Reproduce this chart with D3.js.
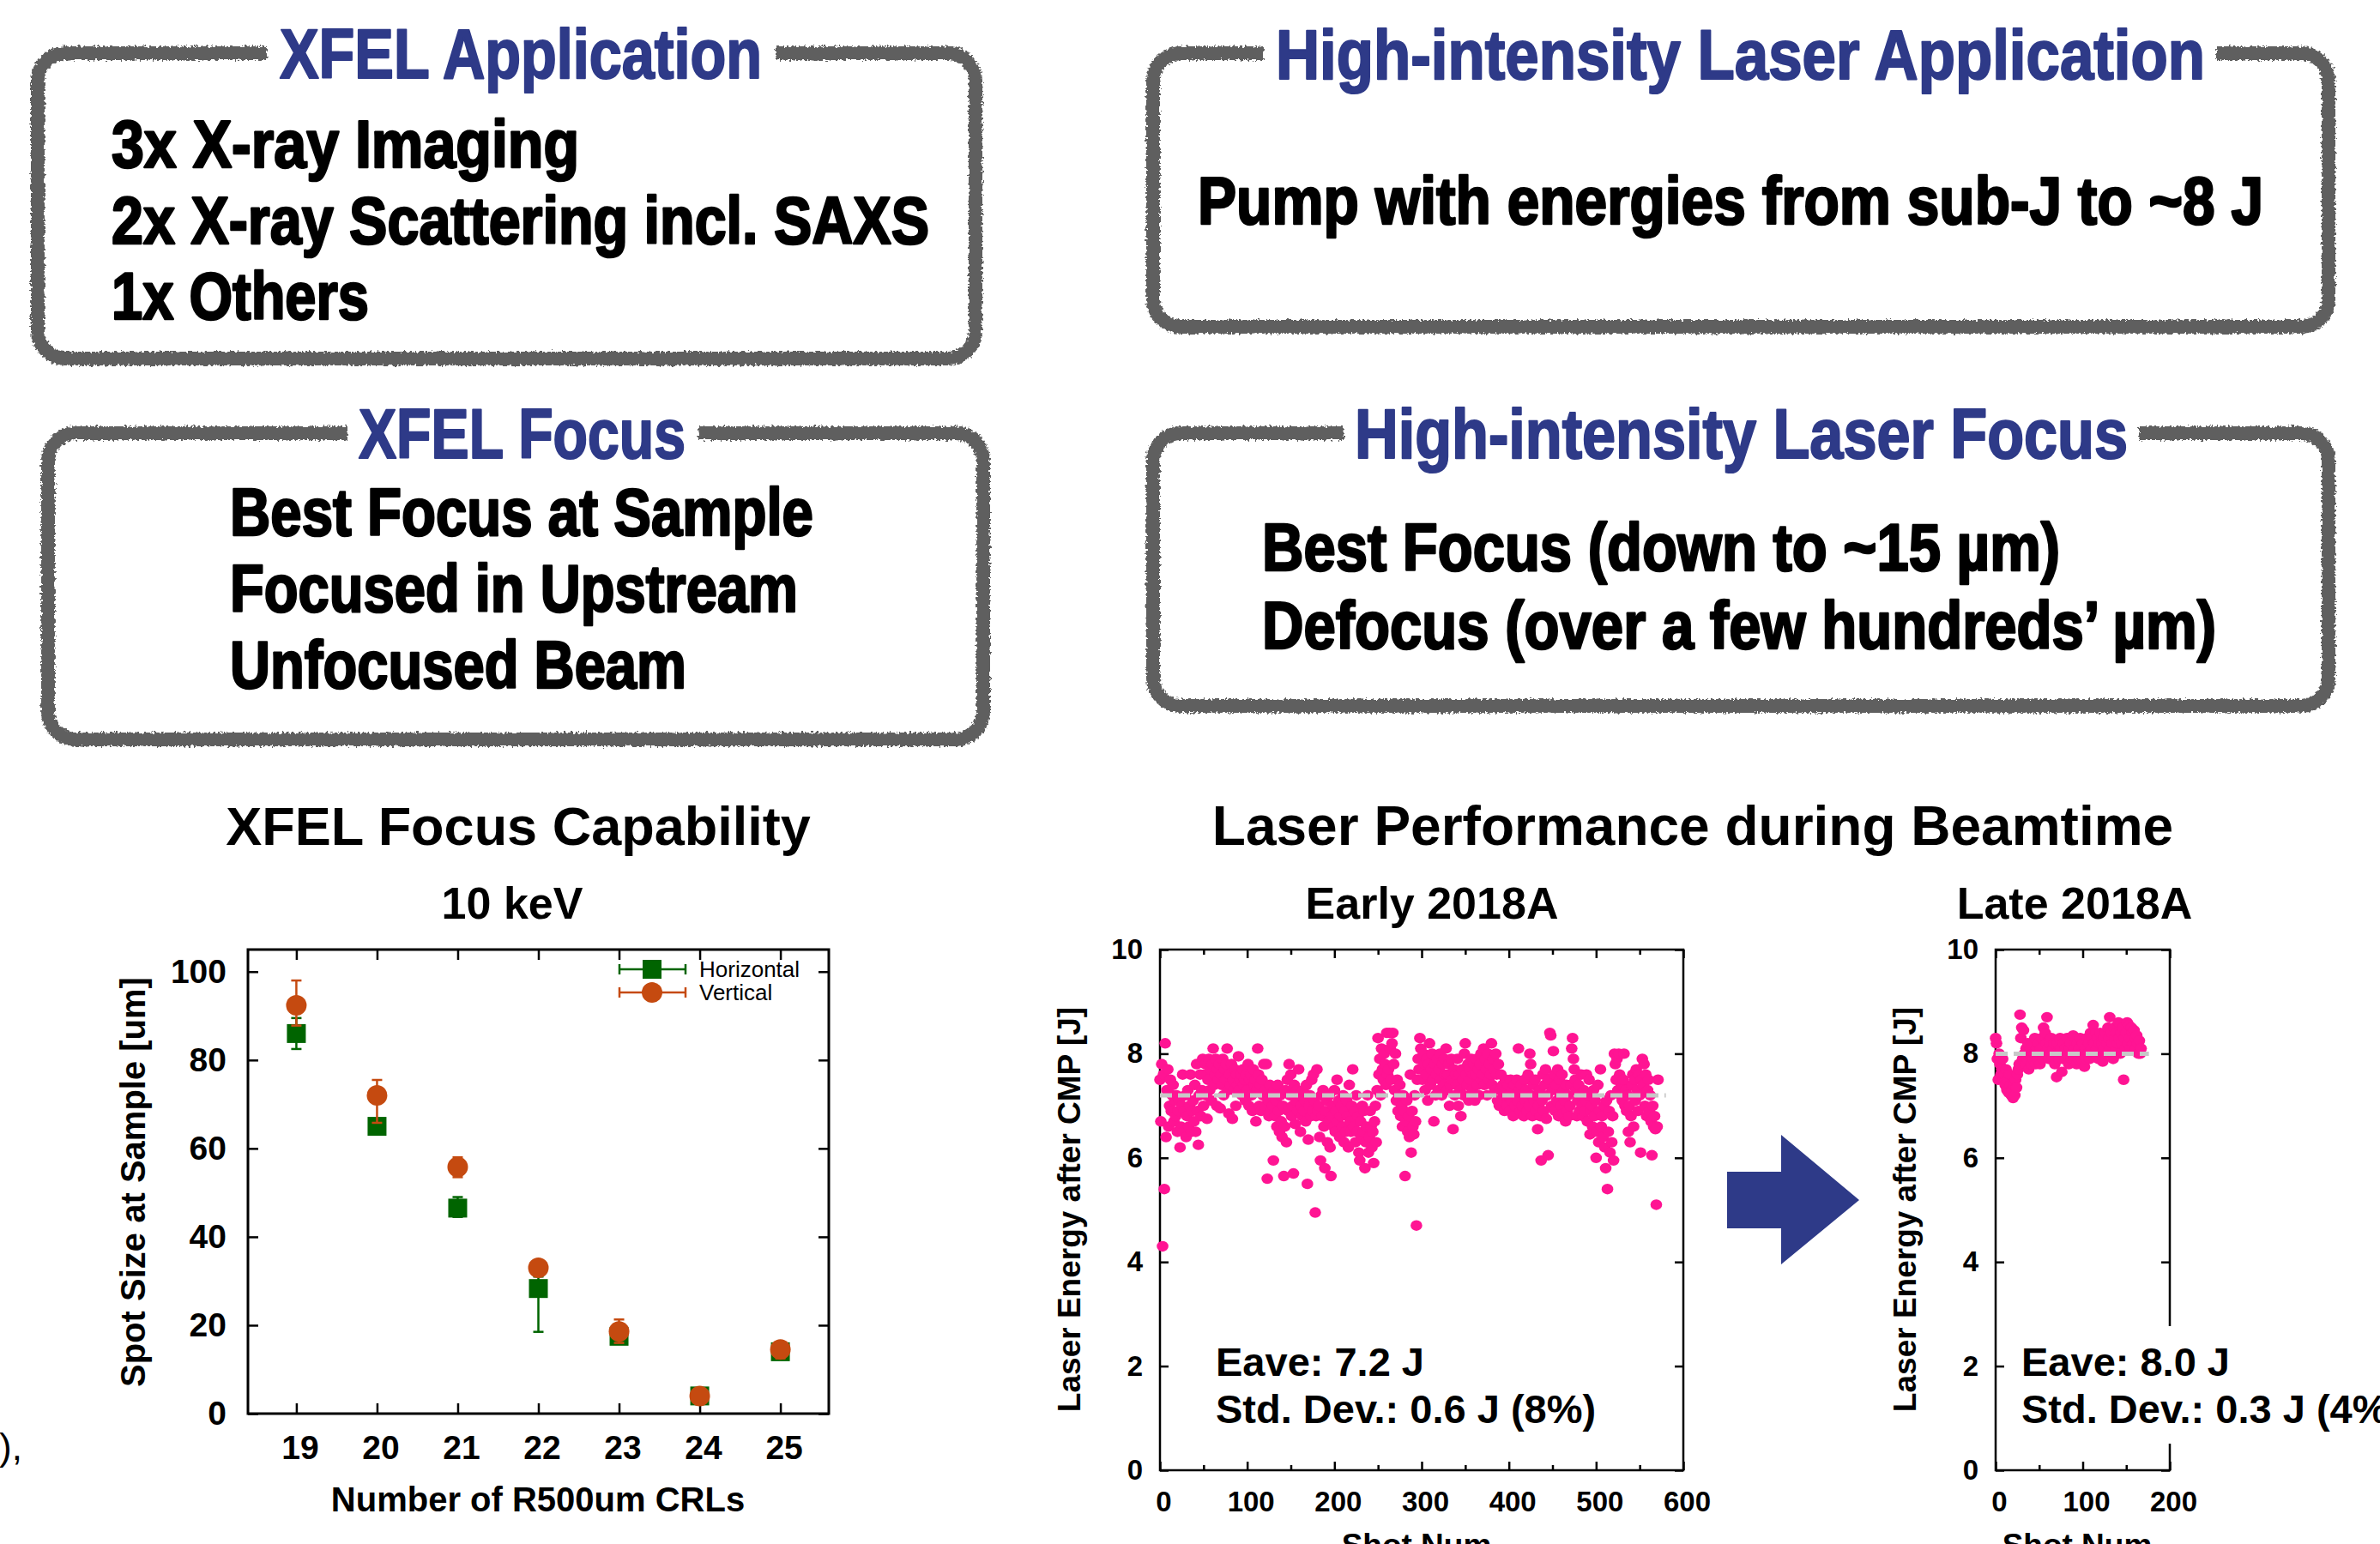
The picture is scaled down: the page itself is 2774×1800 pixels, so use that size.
<!DOCTYPE html>
<html>
<head>
<meta charset="utf-8">
<script src="https://cdn.jsdelivr.net/npm/d3@7"></script>
<style>
  html, body { margin: 0; padding: 0; background: #ffffff; }
  svg { display: block; }
</style>
</head>
<body>
<script>
// ---------------- DATA ----------------
// Text panels
const panelTitles = ["XFEL Application", "High-intensity Laser Application", "XFEL Focus", "High-intensity Laser Focus"];
const panel1Lines = ["3x X-ray Imaging", "2x X-ray Scattering incl. SAXS", "1x Others"];
const panel2Lines = ["Pump with energies from sub-J to ~8 J"];
const panel3Lines = ["Best Focus at Sample", "Focused in Upstream", "Unfocused Beam"];
const panel4Lines = ["Best Focus (down to ~15 µm)", "Defocus (over a few hundreds’ µm)"];

// XFEL focus capability (10 keV)
const crls = [19, 20, 21, 22, 23, 24, 25];
const horizVal  = [86.0, 65.0, 46.5, 28.3, 17.5, 4.0, 14.0];
const horizLow  = [82.5, 64.0, 44.5, 18.5, 16.5, 3.0, 13.0];
const horizHigh = [89.5, 66.5, 49.0, 31.0, 18.5, 5.0, 15.0];
const vertVal   = [92.4, 72.0, 55.8, 33.0, 18.6, 4.0, 14.5];
const vertLow   = [87.8, 65.8, 53.5, 32.0, 16.0, 3.0, 12.5];
const vertHigh  = [98.0, 75.5, 58.0, 34.0, 21.3, 5.0, 15.5];
const spotTicks = [0, 20, 40, 60, 80, 100];
const seriesNames = ["Horizontal", "Vertical"];

// Laser energy after CMP [J], one value per shot
const earlyEnergy = [
 7.5,6.7,7.8,4.3,7.6,5.4,8.2,6.4,7.3,7.7,
 6.6,7.0,7.5,6.9,7.2,7.4,6.7,7.1,6.8,7.2,
 6.5,6.9,7.1,6.2,6.6,7.0,7.6,6.5,6.9,7.2,
 6.4,6.8,7.3,6.6,7.0,7.6,6.5,6.9,7.1,6.7,
 7.4,6.5,7.8,6.9,6.25,7.2,7.6,6.8,7.3,7.9,
 7.0,7.6,7.8,7.2,6.75,7.5,7.9,7.3,7.7,7.1,
 7.8,8.1,7.4,7.6,7.9,7.0,7.7,7.5,7.8,6.95,
 7.6,7.4,7.9,7.2,7.7,7.5,7.8,8.1,7.3,6.85,
 7.6,7.4,7.8,6.75,7.5,7.3,7.7,7.0,7.6,7.4,
 7.95,7.3,7.5,7.6,7.2,7.7,7.4,7.5,7.1,7.6,
 7.3,7.8,7.0,7.5,7.6,7.2,6.9,7.7,7.4,7.5,
 6.7,7.3,8.1,7.6,7.0,7.4,6.9,7.5,7.2,7.8,
 7.0,7.3,7.8,5.6,7.1,6.8,7.4,6.9,7.2,7.0,
 5.95,7.3,6.8,7.1,6.6,7.4,6.9,6.5,7.2,6.7,
 6.4,7.0,5.65,6.6,7.3,6.3,7.5,6.9,7.8,7.2,
 7.6,6.8,7.0,5.7,7.4,6.65,7.1,7.3,6.9,7.7,
 7.2,6.5,7.0,6.8,7.3,6.9,7.1,6.7,7.4,5.5,
 6.35,7.0,7.2,6.8,7.5,6.9,7.6,7.1,4.95,6.8,
 7.7,6.9,7.0,6.4,5.95,7.2,6.8,7.3,6.6,5.8,
 6.9,7.1,6.3,6.7,7.2,6.2,5.65,6.8,7.0,6.6,
 7.3,6.5,6.9,7.5,6.7,7.1,6.4,6.8,7.0,6.6,
 7.2,6.3,6.9,6.5,7.1,6.8,6.2,7.4,6.7,6.5,
 7.0,7.7,6.6,6.9,6.3,7.2,6.5,6.8,6.1,5.95,
 6.7,6.4,7.0,6.5,6.9,5.8,6.3,6.6,7.2,6.1,
 6.4,6.9,6.6,6.2,6.5,5.9,6.7,7.0,6.3,7.3,
 8.3,7.6,7.9,7.2,8.1,7.7,7.5,8.0,7.8,7.4,
 8.4,7.6,7.7,8.4,8.1,7.5,8.2,8.4,7.8,7.3,
 8.0,7.1,7.5,6.9,7.2,7.4,6.8,7.0,6.6,7.2,
 6.9,5.65,6.7,7.1,6.5,6.8,6.4,7.6,6.1,6.9,
 6.6,6.45,7.2,6.7,4.7,7.5,7.9,7.7,8.3,8.1,
 7.7,7.5,8.0,7.8,7.3,7.6,7.9,7.1,7.8,8.2,
 7.4,7.7,8.0,7.5,6.7,7.8,7.2,7.6,7.9,7.3,
 7.7,8.0,7.5,7.2,7.8,7.4,7.9,7.6,8.1,7.3,
 7.6,7.8,7.0,7.4,7.9,7.5,6.55,7.7,7.2,7.6,
 7.4,7.9,7.0,7.6,7.3,6.8,7.7,7.5,7.2,8.0,
 8.2,7.6,7.4,7.8,7.1,7.7,7.5,7.9,7.3,7.6,
 7.8,7.1,7.6,7.9,7.4,7.7,7.2,7.8,8.0,7.5,
 7.6,8.1,7.4,7.9,7.7,7.2,8.0,7.5,7.8,7.6,
 8.2,7.4,7.9,7.7,7.3,8.0,7.6,7.1,7.8,7.0,
 7.3,7.6,7.1,7.4,7.2,6.9,7.5,7.3,7.0,7.4,
 7.2,6.9,7.5,7.1,7.3,6.8,7.4,7.0,7.2,7.5,
 7.1,8.1,7.3,6.9,7.4,7.0,7.2,6.8,7.5,7.1,
 7.3,6.9,7.6,7.0,8.0,7.8,7.2,6.8,7.4,7.1,
 7.5,6.9,7.2,6.55,7.0,7.3,6.8,5.95,7.1,7.6,
 6.9,7.4,7.7,6.75,7.2,6.05,7.5,8.4,8.35,7.0,
 7.3,8.05,7.6,6.9,7.4,7.1,7.7,6.8,7.5,7.2,
 7.0,7.6,6.85,7.3,7.1,6.7,7.4,6.9,7.2,6.8,
 7.0,7.4,8.1,8.3,7.9,7.7,7.5,7.3,6.8,7.1,
 7.4,6.9,7.2,7.6,7.0,6.8,7.3,6.9,7.1,7.6,
 6.7,7.2,7.5,6.45,6.9,7.0,6.6,7.3,6.8,7.1,
 6.0,6.5,7.4,6.3,6.9,7.7,6.6,6.8,6.4,7.0,
 6.2,5.8,7.1,5.4,6.5,6.9,6.1,7.2,6.3,6.8,
 5.95,8.0,7.8,7.5,7.9,7.3,8.0,7.6,7.2,7.4,
 7.1,7.5,8.0,7.0,7.3,6.9,7.2,6.5,7.0,6.3,
 6.8,7.4,7.6,6.6,7.5,7.1,7.7,7.3,6.9,7.6,
 7.2,6.1,7.5,7.9,7.4,7.8,7.0,7.6,6.8,7.3,
 7.5,6.9,7.2,6.7,6.05,7.0,6.6,6.8,6.55,5.1,
 6.6,7.5
];
const lateEnergy = [
 8.3,8.2,7.9,7.5,8.0,7.8,7.6,7.7,7.9,7.5,
 7.6,7.4,7.7,7.3,7.5,7.25,7.6,7.4,7.2,7.3,
 7.15,7.4,7.2,7.5,7.35,7.6,7.7,7.8,8.75,8.3,
 8.5,7.9,8.45,8.0,7.8,8.1,7.9,8.2,7.7,8.0,
 8.1,7.8,8.2,7.9,8.0,8.3,7.8,8.1,7.9,8.2,
 8.0,7.8,8.1,8.3,7.9,8.5,8.0,8.4,8.2,8.7,
 8.1,7.9,8.2,8.0,8.3,7.9,8.1,8.2,7.8,8.0,
 7.55,8.2,8.0,7.9,8.3,8.1,7.65,7.9,8.2,8.0,
 8.1,7.9,8.3,8.0,7.8,8.1,8.2,7.9,8.0,8.35,
 7.9,8.1,8.0,7.8,8.2,7.9,8.1,8.3,8.0,7.9,
 8.2,8.0,7.75,8.1,7.9,8.3,8.0,8.2,7.9,8.4,
 8.1,8.3,8.55,8.2,8.0,8.4,8.1,8.3,7.9,8.2,
 8.4,8.0,8.2,7.85,8.3,8.1,8.4,8.0,8.2,8.5,
 8.3,8.7,8.1,8.4,8.2,7.9,8.5,8.3,8.1,8.4,
 8.2,8.6,8.3,8.0,8.4,8.2,8.5,7.5,8.3,8.1,
 8.4,8.6,8.2,8.55,8.3,8.1,8.5,8.4,8.2,8.45,
 8.3,8.1,8.35,8.2,8.0,8.25,8.0,8.1
];
const earlyAvg = 7.2, lateAvg = 8.0;
const earlyStats = ["Eave: 7.2 J", "Std. Dev.: 0.6 J (8%)"];
const lateStats  = ["Eave: 8.0 J", "Std. Dev.: 0.3 J (4%)"];
const energyTicks = [0, 2, 4, 6, 8, 10];
const earlyShotTicks = [0, 100, 200, 300, 400, 500, 600];
const lateShotTicks = [0, 100, 200];

// ---------------- STYLE ----------------
const FONT = "'Liberation Sans', Arial, Helvetica, sans-serif";
const BLUE = "#2e3a88";
const BORDER = "#5e5e5e";
const GREEN = "#006400";
const ORANGE = "#c54a10";
const PINK = "#ff1493";

const svg = d3.select("body").append("svg")
  .attr("width", 2774).attr("height", 1800)
  .style("font-family", FONT);

const defs = svg.append("defs");
const filt = defs.append("filter").attr("id", "rough")
  .attr("x", "-3%").attr("y", "-6%").attr("width", "106%").attr("height", "112%");
filt.append("feTurbulence").attr("type", "fractalNoise").attr("baseFrequency", 0.35)
  .attr("numOctaves", 2).attr("seed", 7).attr("result", "noise");
filt.append("feDisplacementMap").attr("in", "SourceGraphic").attr("in2", "noise")
  .attr("scale", 7).attr("xChannelSelector", "R").attr("yChannelSelector", "G");

// ---------------- TEXT PANELS ----------------
function boxPath(x0, y0, x1, y1, r, g0, g1) {
  const p = d3.path();
  p.moveTo(g1, y0);
  p.lineTo(x1 - r, y0);
  p.arcTo(x1, y0, x1, y0 + r, r);
  p.lineTo(x1, y1 - r);
  p.arcTo(x1, y1, x1 - r, y1, r);
  p.lineTo(x0 + r, y1);
  p.arcTo(x0, y1, x0, y1 - r, r);
  p.lineTo(x0, y0 + r);
  p.arcTo(x0, y0, x0 + r, y0, r);
  p.lineTo(g0, y0);
  return p.toString();
}

const panels = [
  { box: [44, 62, 1137, 418], gap: [311, 904], title: panelTitles[0], tx: 326, tw: 562, ty: 91,
    lines: panel1Lines, lx: 130, lw: [545, 953, 300], ly: [195, 284, 372] },
  { box: [1344, 62, 2714, 381], gap: [1473, 2583], title: panelTitles[1], tx: 1487, tw: 1083, ty: 92,
    lines: panel2Lines, lx: 1396, lw: [1242], ly: [261] },
  { box: [56, 505, 1146, 862], gap: [405, 814], title: panelTitles[2], tx: 418, tw: 381, ty: 534,
    lines: panel3Lines, lx: 268, lw: [680, 662, 532], ly: [624, 713, 802] },
  { box: [1344, 505, 2714, 823], gap: [1566, 2493], title: panelTitles[3], tx: 1579, tw: 901, ty: 534,
    lines: panel4Lines, lx: 1471, lw: [930, 1112], ly: [665, 756] }
];

panels.forEach(p => {
  const [x0, y0, x1, y1] = p.box;
  svg.append("path").attr("d", boxPath(x0, y0, x1, y1, 32, p.gap[0], p.gap[1]))
    .attr("fill", "none").attr("stroke", BORDER).attr("stroke-width", 16)
    .attr("filter", "url(#rough)");
  svg.append("text").attr("x", p.tx).attr("y", p.ty)
    .attr("font-size", 82).attr("font-weight", "bold").attr("fill", BLUE)
    .attr("stroke", BLUE).attr("stroke-width", 2.2).attr("stroke-linejoin", "round")
    .attr("textLength", p.tw).attr("lengthAdjust", "spacingAndGlyphs")
    .text(p.title);
  p.lines.forEach((t, i) => {
    svg.append("text").attr("x", p.lx).attr("y", p.ly[i])
      .attr("font-size", 77).attr("font-weight", "bold").attr("fill", "#000")
      .attr("stroke", "#000").attr("stroke-width", 2.6).attr("stroke-linejoin", "round")
      .attr("textLength", p.lw[i]).attr("lengthAdjust", "spacingAndGlyphs")
      .text(t);
  });
});

// stray text at left edge
svg.append("text").attr("x", 26).attr("y", 1702).attr("text-anchor", "end")
  .attr("font-size", 44).attr("fill", "#000").text("0),");

// ---------------- AXIS HELPERS ----------------
function styleAxis(g, fs) {
  g.select(".domain").remove();
  g.selectAll(".tick line").attr("stroke", "#000").attr("stroke-width", 2.5);
  g.selectAll(".tick text").attr("fill", "#000").attr("font-size", fs)
    .attr("font-weight", "bold").attr("font-family", FONT);
  return g;
}
function frame(x, y, fs, opts) {
  const [xa, xb] = x.range(), [ya, yb] = y.range();
  const g = svg.append("g");
  styleAxis(g.append("g").attr("transform", `translate(0,${ya})`)
    .call(d3.axisBottom(x).tickValues(opts.xTicks).tickSize(-opts.tick).tickPadding(opts.xPad)
      .tickFormat(d3.format("d"))), fs)
    .selectAll(".tick text").attr("dx", 4);
  styleAxis(g.append("g").attr("transform", `translate(0,${yb})`)
    .call(d3.axisTop(x).tickValues(opts.xTicks).tickSize(-opts.tick).tickFormat("")), fs);
  if (opts.xMinor) {
    styleAxis(g.append("g").attr("transform", `translate(0,${ya})`)
      .call(d3.axisBottom(x).tickValues(opts.xMinor).tickSize(-opts.tick * 0.6).tickFormat("")), fs);
    styleAxis(g.append("g").attr("transform", `translate(0,${yb})`)
      .call(d3.axisTop(x).tickValues(opts.xMinor).tickSize(-opts.tick * 0.6).tickFormat("")), fs);
  }
  styleAxis(g.append("g").attr("transform", `translate(${xa},0)`)
    .call(d3.axisLeft(y).tickValues(opts.yTicks).tickSize(-opts.tick).tickPadding(opts.yPad)
      .tickFormat(d3.format("d"))), fs);
  styleAxis(g.append("g").attr("transform", `translate(${xb},0)`)
    .call(d3.axisRight(y).tickValues(opts.yTicks).tickSize(-opts.tick).tickFormat("")), fs);
  g.append("rect").attr("x", xa).attr("y", yb).attr("width", xb - xa).attr("height", ya - yb)
    .attr("fill", "none").attr("stroke", "#000").attr("stroke-width", opts.sw);
  return g;
}
function centeredText(x, y, t, fs, weight) {
  return svg.append("text").attr("x", x).attr("y", y).attr("text-anchor", "middle")
    .attr("font-size", fs).attr("font-weight", weight || "bold").attr("fill", "#000").text(t);
}
function yTitle(x, y, t, fs) {
  return svg.append("text").attr("transform", `translate(${x},${y}) rotate(-90)`)
    .attr("text-anchor", "middle").attr("font-size", fs).attr("font-weight", "bold")
    .attr("fill", "#000").text(t);
}

// ---------------- XFEL FOCUS CHART ----------------
const xL = d3.scaleLinear().domain([18.4, 25.6]).range([289, 966]);
const yL = d3.scaleLinear().domain([0, 105]).range([1648, 1107]);

centeredText(604, 985, "XFEL Focus Capability", 63);
centeredText(597, 1071, "10 keV", 52);
frame(xL, yL, 39, { xTicks: crls, yTicks: spotTicks, tick: 12, xPad: 25, yPad: 25, sw: 3 });
centeredText(627, 1762, "Number of R500um CRLs", 40);
yTitle(169, 1378, "Spot Size at Sample [um]", 40);

function errorSeries(vals, lows, highs, color, shape) {
  const g = svg.append("g");
  crls.forEach((c, i) => {
    const x = xL(c);
    g.append("line").attr("x1", x).attr("x2", x).attr("y1", yL(lows[i])).attr("y2", yL(highs[i]))
      .attr("stroke", color).attr("stroke-width", 2.5);
    [lows[i], highs[i]].forEach(v => {
      g.append("line").attr("x1", x - 6).attr("x2", x + 6).attr("y1", yL(v)).attr("y2", yL(v))
        .attr("stroke", color).attr("stroke-width", 2.5);
    });
    if (shape === "square") {
      g.append("rect").attr("x", x - 11).attr("y", yL(vals[i]) - 11).attr("width", 22).attr("height", 22)
        .attr("fill", color);
    } else {
      g.append("circle").attr("cx", x).attr("cy", yL(vals[i])).attr("r", 12).attr("fill", color);
    }
  });
}
errorSeries(horizVal, horizLow, horizHigh, GREEN, "square");
errorSeries(vertVal, vertLow, vertHigh, ORANGE, "circle");

// legend
[[seriesNames[0], GREEN, "square", 1130], [seriesNames[1], ORANGE, "circle", 1157]].forEach(([name, col, shape, y]) => {
  const g = svg.append("g");
  g.append("line").attr("x1", 722).attr("x2", 799).attr("y1", y).attr("y2", y).attr("stroke", col).attr("stroke-width", 2.5);
  [722, 799].forEach(x => g.append("line").attr("x1", x).attr("x2", x).attr("y1", y - 6).attr("y2", y + 6)
    .attr("stroke", col).attr("stroke-width", 2.5));
  if (shape === "square") g.append("rect").attr("x", 749).attr("y", y - 11).attr("width", 22).attr("height", 22).attr("fill", col);
  else g.append("circle").attr("cx", 760).attr("cy", y).attr("r", 12).attr("fill", col);
  g.append("text").attr("x", 815).attr("y", y + 9).attr("font-size", 26).attr("fill", "#000").text(name);
});

// ---------------- LASER CHARTS ----------------
centeredText(1973, 985, "Laser Performance during Beamtime", 64);

function laserChart(data, avg, stats, x, y, xTicks, xMinor, title, titleX, mask) {
  const [xa, xb] = x.range(), [ya, yb] = y.range();
  centeredText(titleX, 1071, title, 52);
  frame(x, y, 33, { xTicks: xTicks, xMinor: xMinor, yTicks: energyTicks, tick: 10, xPad: 25, yPad: 20, sw: 2.5 });
  svg.append("g").selectAll("ellipse").data(data).join("ellipse")
    .attr("cx", (d, i) => x(i)).attr("cy", d => y(d)).attr("rx", 6.8).attr("ry", 6.2).attr("fill", PINK);
  const xEnd = Math.min(xb, x(data.length + 8));
  svg.append("line").attr("x1", xa).attr("x2", xEnd)
    .attr("y1", y(avg)).attr("y2", y(avg))
    .attr("stroke", "#c8c8c8").attr("stroke-width", 5).attr("stroke-dasharray", "14,7");
  if (mask) {
    svg.append("rect").attr("x", mask[0]).attr("y", mask[1]).attr("width", mask[2]).attr("height", mask[3]).attr("fill", "#fff");
  }
  stats.forEach((t, i) => {
    svg.append("text").attr("x", xa + (mask ? 30 : 65)).attr("y", [1604, 1659][i])
      .attr("font-size", 47).attr("font-weight", "bold").attr("fill", "#000").text(t);
  });
}

const xM = d3.scaleLinear().domain([0, 600]).range([1352, 1962]);
const yM = d3.scaleLinear().domain([0, 10]).range([1714, 1107]);
laserChart(earlyEnergy, earlyAvg, earlyStats, xM, yM, earlyShotTicks,
  d3.range(50, 600, 100), "Early 2018A", 1669, null);
yTitle(1259, 1410, "Laser Energy after CMP [J]", 37);
centeredText(1651, 1814, "Shot Num", 37);

const xR = d3.scaleLinear().domain([0, 200]).range([2326, 2529]);
const yR = d3.scaleLinear().domain([0, 10]).range([1714, 1107]);
laserChart(lateEnergy, lateAvg, lateStats, xR, yR, lateShotTicks,
  [50, 150], "Late 2018A", 2418, [2340, 1546, 434, 137]);
yTitle(2233, 1410, "Laser Energy after CMP [J]", 37);
centeredText(2421, 1814, "Shot Num", 37);

// arrow
svg.append("polygon")
  .attr("points", [[2013,1366],[2076,1366],[2076,1323],[2167,1399],[2076,1474],[2076,1432],[2013,1432]].map(p => p.join(",")).join(" "))
  .attr("fill", BLUE);
</script>
</body>
</html>
